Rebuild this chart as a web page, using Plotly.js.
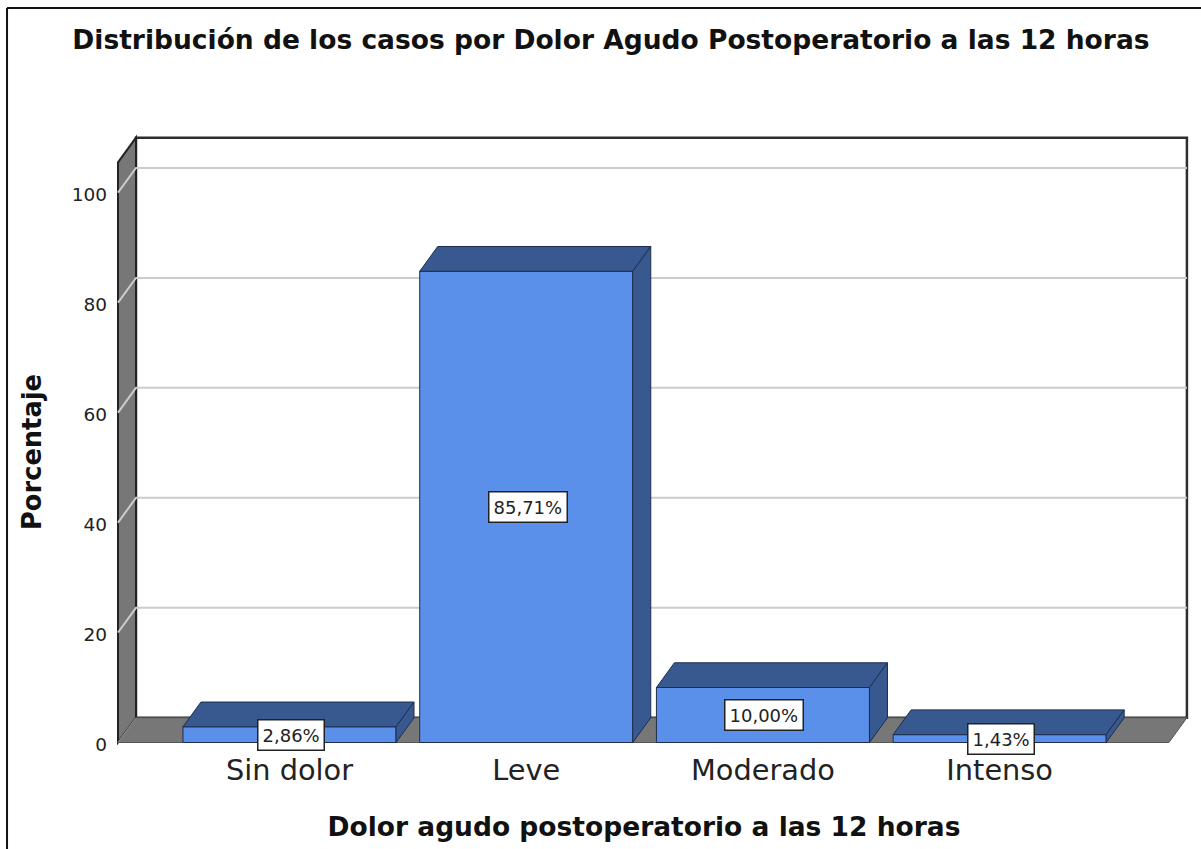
<!DOCTYPE html>
<html>
<head>
<meta charset="utf-8">
<script src="https://cdn.plot.ly/plotly-3.0.1.min.js"></script>
<style>html,body{margin:0;padding:0;background:#fff}</style>
</head>
<body>
<div id="chart" style="width:1201px;height:849px"></div>
<script>
const categories = ["Sin dolor", "Leve", "Moderado", "Intenso"];
const values = [2.86, 85.71, 10.00, 1.43];
const valueLabels = ["2,86%", "85,71%", "10,00%", "1,43%"];
const yTicks = [0, 20, 40, 60, 80, 100];
const chartTitle = "Distribución de los casos por Dolor Agudo Postoperatorio a las 12 horas";
const xTitle = "Dolor agudo postoperatorio a las 12 horas";
const yTitle = "Porcentaje";

const barColor = "#5B90EA", sideColor = "#38598F", edge = "#1E2D4E";
const wall = "#777777", frame = "#2E2E2E", grid = "#CCCCCC";

// 3D extrusion, expressed in axis units
const depthX = 0.076, depthY = 4.5, barWidth = 0.9;
const floorL = -0.7245, floorR = 3.715, wallTop = 105.5;
const F = "DejaVu Sans, Verdana, sans-serif";

const faces = [];
values.forEach((v, i) => {
  const a = i - barWidth / 2, b = i + barWidth / 2;
  const style = {type: "scatter", mode: "lines", fill: "toself", fillcolor: sideColor,
    line: {color: edge, width: 1}, showlegend: false, hoverinfo: "skip", cliponaxis: false};
  faces.push(Object.assign({x: [a, a + depthX, b + depthX, b, a], y: [v, v + depthY, v + depthY, v, v]}, style));
  faces.push(Object.assign({x: [b, b + depthX, b + depthX, b, b], y: [0, depthY, v + depthY, v, 0]}, style));
});

const bars = {type: "bar", x: [0, 1, 2, 3], y: values, width: barWidth,
  marker: {color: barColor, line: {color: edge, width: 1}}, showlegend: false, hoverinfo: "skip"};

const poly = (xs, ys) => "M" + xs.map((x, i) => x + "," + ys[i]).join("L") + "Z";
const shapes = [];
// back wall
shapes.push({type: "path", xref: "x", yref: "y", layer: "below",
  path: poly([floorL + depthX, floorR + depthX, floorR + depthX, floorL + depthX],
             [depthY, depthY, wallTop + depthY, wallTop + depthY]),
  fillcolor: "#FFFFFF", line: {color: frame, width: 2.5}});
// left wall
shapes.push({type: "path", xref: "x", yref: "y", layer: "below",
  path: poly([floorL, floorL + depthX, floorL + depthX, floorL],
             [0, depthY, wallTop + depthY, wallTop]),
  fillcolor: wall, line: {color: "#222222", width: 2}});
// floor
shapes.push({type: "path", xref: "x", yref: "y", layer: "below",
  path: poly([floorL, floorR, floorR + depthX, floorL + depthX], [0, 0, depthY, depthY]),
  fillcolor: wall, line: {color: "#555555", width: 1}});
// gridlines on the walls
yTicks.filter(t => t > 0).forEach(t => {
  shapes.push({type: "path", xref: "x", yref: "y", layer: "below",
    path: "M" + floorL + "," + t + "L" + (floorL + depthX) + "," + (t + depthY) + "L" + (floorR + depthX) + "," + (t + depthY),
    fillcolor: "rgba(0,0,0,0)", line: {color: grid, width: 2}});
});
shapes.push({type: "line", xref: "x", yref: "y", layer: "below", x0: floorL + depthX, x1: floorL, y0: depthY, y1: 0,
  line: {color: "#999999", width: 1}});
// outer picture frame
shapes.push({type: "line", xref: "paper", yref: "paper", x0: -0.0833, x1: -0.0833, y0: -0.1165, y1: 1.1894, line: {color: "#111", width: 2}});
shapes.push({type: "line", xref: "paper", yref: "paper", x0: -0.0833, x1: 1.0101, y0: 1.1894, y1: 1.1894, line: {color: "#111", width: 2}});

const annotations = values.map((v, i) => ({
  x: i + 0.006, y: Math.max(v / 2, 0.5), xref: "x", yref: "y", text: valueLabels[i], showarrow: false,
  font: {family: F, size: 18, color: "#222"}, bgcolor: "#FFFFFF", bordercolor: "#222", borderwidth: 1.5, borderpad: 4
}));

const layout = {
  width: 1201, height: 849,
  paper_bgcolor: "#FFFFFF", plot_bgcolor: "rgba(0,0,0,0)",
  margin: {l: 98, r: 11, t: 130, b: 75},
  title: {text: chartTitle, x: 0.5087, xanchor: "center", y: 0.953, yanchor: "middle",
    font: {family: F, size: 26.5, weight: 700, color: "#111"}},
  xaxis: {type: "linear", range: [-0.809, 3.804], tickmode: "array", tickvals: [0, 1, 2, 3], ticktext: categories,
    showgrid: false, zeroline: false, showline: false, ticks: "", ticklabelstandoff: -24,
    tickfont: {family: F, size: 28.8, color: "#222"},
    title: {text: xTitle, standoff: 31, font: {family: F, size: 26.5, weight: 700, color: "#111"}}},
  yaxis: {range: [-5.73, 111.4], tickmode: "array", tickvals: yTicks, ticktext: yTicks.map(String),
    showgrid: false, zeroline: false, showline: false, ticks: "", ticklabelstandoff: -10, ticklabelshift: 2,
    tickfont: {family: F, size: 18.5, color: "#222"},
    title: {text: yTitle, standoff: 22, font: {family: F, size: 25.7, weight: 700, color: "#111"}}},
  shapes: shapes, annotations: annotations, bargap: 0
};
Plotly.newPlot("chart", [bars].concat(faces), layout, {displayModeBar: false, staticPlot: true});
</script>
</body>
</html>
